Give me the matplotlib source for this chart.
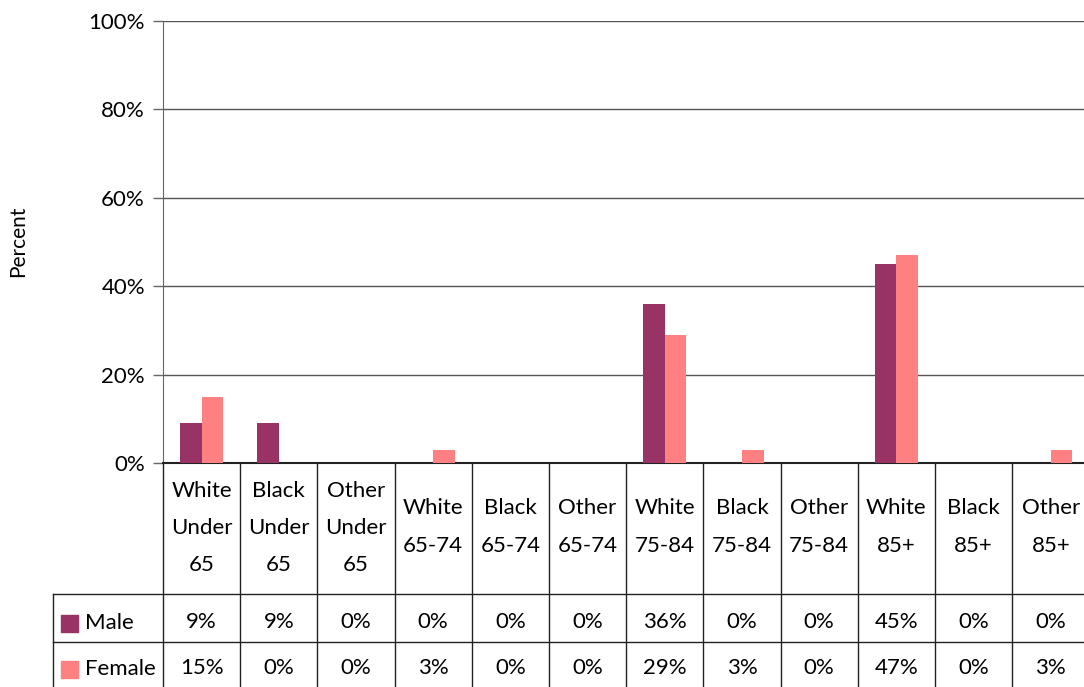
import matplotlib.pyplot as plt
import numpy as np

plt.rcParams['font.family'] = ['Lato', 'DejaVu Sans']

categories = ['White\nUnder\n65', 'Black\nUnder\n65', 'Other\nUnder\n65',
              'White\n65-74', 'Black\n65-74', 'Other\n65-74',
              'White\n75-84', 'Black\n75-84', 'Other\n75-84',
              'White\n85+', 'Black\n85+', 'Other\n85+']
male = [9, 9, 0, 0, 0, 0, 36, 0, 0, 45, 0, 0]
female = [15, 0, 0, 3, 0, 0, 29, 3, 0, 47, 0, 3]
series = ['Male', 'Female']
colors = ['#993366', '#FF8080']

W, H = 1084, 687
fig = plt.figure(figsize=(W / 100, H / 100), dpi=100)

# pixel geometry
x0 = 163
cw = 77.2
ytop = 21
y0 = 463
n = len(categories)
fs = 16

ax = fig.add_axes([x0 / W, (H - y0) / H, n * cw / W, (y0 - ytop) / H])
x = np.arange(n) + 0.5
bw = 0.28
ax.bar(x - bw / 2, male, bw, color=colors[0], zorder=3)
ax.bar(x + bw / 2, female, bw, color=colors[1], zorder=3)
ax.set_xlim(0, n)
ax.set_ylim(0, 100)
ax.set_yticks(np.arange(0, 101, 20))
ax.set_yticklabels(['%d%%' % v for v in range(0, 101, 20)], fontsize=fs)
ax.tick_params(axis='y', length=7, width=1, color='#666666', pad=6)
ax.set_xticks([])
ax.grid(axis='y', color='#555555', linewidth=1, zorder=0)
for s in ['top', 'right']:
    ax.spines[s].set_visible(False)
ax.spines['left'].set_color('#666666')
ax.spines['bottom'].set_color('#222222')
ax.spines['bottom'].set_linewidth(1.5)
fig.text(18 / W, 1 - 241 / H, 'Percent', rotation=90, ha='center', va='center', fontsize=15)

# data table below the plot
tb = fig.add_axes([x0 / W, 0, n * cw / W, (H - y0) / H])
tb.set_xlim(0, n)
tb.set_ylim(H - y0, 0)
tb.axis('off')
hdr = 131
r1 = 179
left = -(x0 - 53) / cw
lc = '#222222'
for i in range(n + 1):
    tb.plot([i, i], [0, H - y0], color=lc, lw=1, clip_on=False)
tb.plot([left, left], [hdr, H - y0], color=lc, lw=1, clip_on=False)
tb.plot([left, n], [hdr, hdr], color=lc, lw=1, clip_on=False)
tb.plot([left, n], [r1, r1], color=lc, lw=1, clip_on=False)

for i, lab in enumerate(categories):
    lines = lab.split('\n')
    yc = 65 if len(lines) == 3 else 64
    off = (len(lines) - 1) / 2
    for j, t in enumerate(lines):
        tb.text(i + 0.5, yc + (j - off) * 37, t, ha='center', va='center', fontsize=fs)
    tb.text(i + 0.5, 159, '%d%%' % male[i], ha='center', va='center', fontsize=fs)
    tb.text(i + 0.5, 205, '%d%%' % female[i], ha='center', va='center', fontsize=fs)

sq = 17 / cw
for k, (name, c, yy) in enumerate(zip(series, colors, [160, 206])):
    tb.add_patch(plt.Rectangle((left + 8 / cw, yy - 8.5), sq, 17, color=c, clip_on=False))
    tb.text(left + 32 / cw, yy, name, ha='left', va='center', fontsize=fs)

fig.savefig('out.png', dpi=100)
